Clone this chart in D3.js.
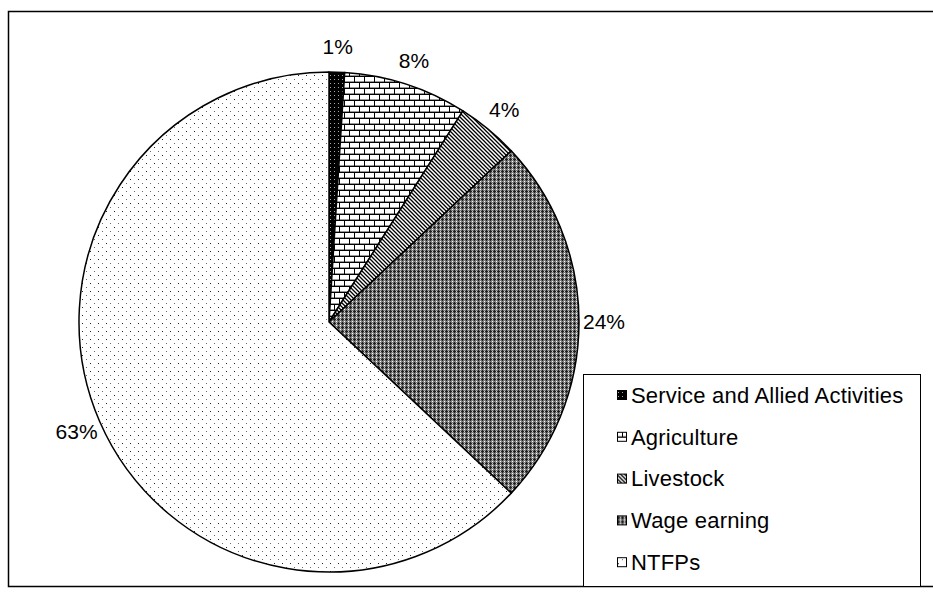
<!DOCTYPE html>
<html>
<head>
<meta charset="utf-8">
<script src="https://cdn.jsdelivr.net/npm/d3@7"></script>
<style>
  body { margin: 0; background: white; }
  text { font-family: "Liberation Sans", Arial, sans-serif; fill: #000; }
</style>
</head>
<body>
<div id="chart"></div>
<script>
// Data
var categories = ["Service and Allied Activities", "Agriculture", "Livestock", "Wage earning", "NTFPs"]
var shares = [1, 8, 4, 24, 63]
var labels = ["1%", "8%", "4%", "24%", "63%"]
var patternIds = ["pService", "pAgri", "pLive", "pWage", "pNtfp"]

var width = 933
var height = 609
var cx = 329, cy = 322, radius = 250

var svg = d3.select('#chart')
  .append('svg')
  .attr('width', width)
  .attr('height', height)

var defs = svg.append("defs")

// Patterns (mimic the old Excel fill patterns)

// Service: black with light dots
var p = defs.append("pattern").attr("id", "pService")
    .attr("patternUnits", "userSpaceOnUse").attr("width", 4).attr("height", 4)
p.append("rect").attr("width", 4).attr("height", 4).style("fill", "#000")
p.append("rect").attr("x", 1).attr("y", 1).attr("width", 1).attr("height", 1).style("fill", "#aaa")

// Agriculture: bricks
p = defs.append("pattern").attr("id", "pAgri")
    .attr("patternUnits", "userSpaceOnUse").attr("width", 10).attr("height", 12)
p.append("rect").attr("width", 10).attr("height", 12).style("fill", "#fff")
p.append("rect").attr("x", 0).attr("y", 0).attr("width", 10).attr("height", 1).style("fill", "#000")
p.append("rect").attr("x", 0).attr("y", 6).attr("width", 10).attr("height", 1).style("fill", "#000")
p.append("rect").attr("x", 0).attr("y", 0).attr("width", 1).attr("height", 6).style("fill", "#000")
p.append("rect").attr("x", 5).attr("y", 6).attr("width", 1).attr("height", 6).style("fill", "#000")
p.append("rect").attr("x", 1).attr("y", 5).attr("width", 9).attr("height", 1).style("fill", "#999")
p.append("rect").attr("x", 0).attr("y", 11).attr("width", 5).attr("height", 1).style("fill", "#999")
p.append("rect").attr("x", 6).attr("y", 11).attr("width", 4).attr("height", 1).style("fill", "#999")

// Livestock: diagonal stripes
p = defs.append("pattern").attr("id", "pLive")
    .attr("patternUnits", "userSpaceOnUse").attr("width", 4).attr("height", 4)
p.append("rect").attr("width", 4).attr("height", 4).style("fill", "#fff")
p.append("path").attr("d", "M-1,-1L5,5M-1,3L1,5M3,-1L5,1")
    .style("stroke", "#000").style("stroke-width", 1.3)

// Wage earning: grey cross-hatch
p = defs.append("pattern").attr("id", "pWage")
    .attr("patternUnits", "userSpaceOnUse").attr("width", 4).attr("height", 4)
p.append("rect").attr("width", 4).attr("height", 4).style("fill", "#808080")
p.append("rect").attr("x", 1).attr("y", 0).attr("width", 1).attr("height", 3).style("fill", "#222")
p.append("rect").attr("x", 0).attr("y", 1).attr("width", 3).attr("height", 1).style("fill", "#222")
p.append("rect").attr("x", 3).attr("y", 3).attr("width", 1).attr("height", 1).style("fill", "#fff")
p.append("rect").attr("x", 3).attr("y", 1).attr("width", 1).attr("height", 1).style("fill", "#ccc")

// NTFPs: sparse dots
p = defs.append("pattern").attr("id", "pNtfp")
    .attr("patternUnits", "userSpaceOnUse").attr("width", 8).attr("height", 8)
p.append("rect").attr("width", 8).attr("height", 8).style("fill", "#fff")
p.append("rect").attr("x", 1).attr("y", 1).attr("width", 1).attr("height", 1).style("fill", "#222")
p.append("rect").attr("x", 5).attr("y", 5).attr("width", 1).attr("height", 1).style("fill", "#666")

// Outer frame (right edge runs past the window)
svg.append("rect")
    .attr("x", 8.5).attr("y", 11.5)
    .attr("width", 940).attr("height", 575)
    .style("fill", "none")
    .style("stroke", "#000")
    .style("stroke-width", 1.5)

// Pie
var pie = d3.pie().sort(null).value(function (d) { return d; })
var arcs = pie(shares)

var arc = d3.arc().innerRadius(0).outerRadius(radius)
var labelArc = d3.arc().innerRadius(radius * 1.1).outerRadius(radius * 1.1)

var chart = svg.append("g")
    .attr("transform", "translate(" + cx + "," + cy + ")")

chart.selectAll("path.slice")
    .data(arcs)
    .enter()
    .append("path")
    .attr("class", "slice")
    .attr("d", arc)
    .style("fill", function (d, i) { return "url(#" + patternIds[i] + ")"; })
    .style("stroke", "#000")
    .style("stroke-width", 1.5)
    .style("stroke-linejoin", "round")

chart.selectAll("text.pct")
    .data(arcs)
    .enter()
    .append("text")
    .attr("class", "pct")
    .attr("transform", function (d) { return "translate(" + labelArc.centroid(d) + ")"; })
    .attr("dy", "0.35em")
    .style("text-anchor", "middle")
    .style("font-size", "21px")
    .text(function (d, i) { return labels[i]; })

// Legend
var legend = svg.append("g")

legend.append("rect")
    .attr("x", 583.5).attr("y", 374.5)
    .attr("width", 337).attr("height", 212)
    .style("fill", "#fff")
    .style("stroke", "#000")
    .style("stroke-width", 1)

var item = legend.selectAll("g.item")
    .data(categories)
    .enter()
    .append("g")
    .attr("class", "item")
    .attr("transform", function (d, i) { return "translate(617," + (395 + i * 41.8) + ")"; })

item.append("rect")
    .attr("x", 0.5).attr("y", -4.5)
    .attr("width", 9).attr("height", 9)
    .style("fill", function (d, i) { return "url(#" + patternIds[i] + ")"; })
    .style("stroke", "#000")
    .style("stroke-width", 1)

item.append("text")
    .attr("x", 14)
    .attr("dy", "0.35em")
    .style("font-size", "22px")
    .style("letter-spacing", "0.2px")
    .text(function (d) { return d; })
</script>
</body>
</html>
